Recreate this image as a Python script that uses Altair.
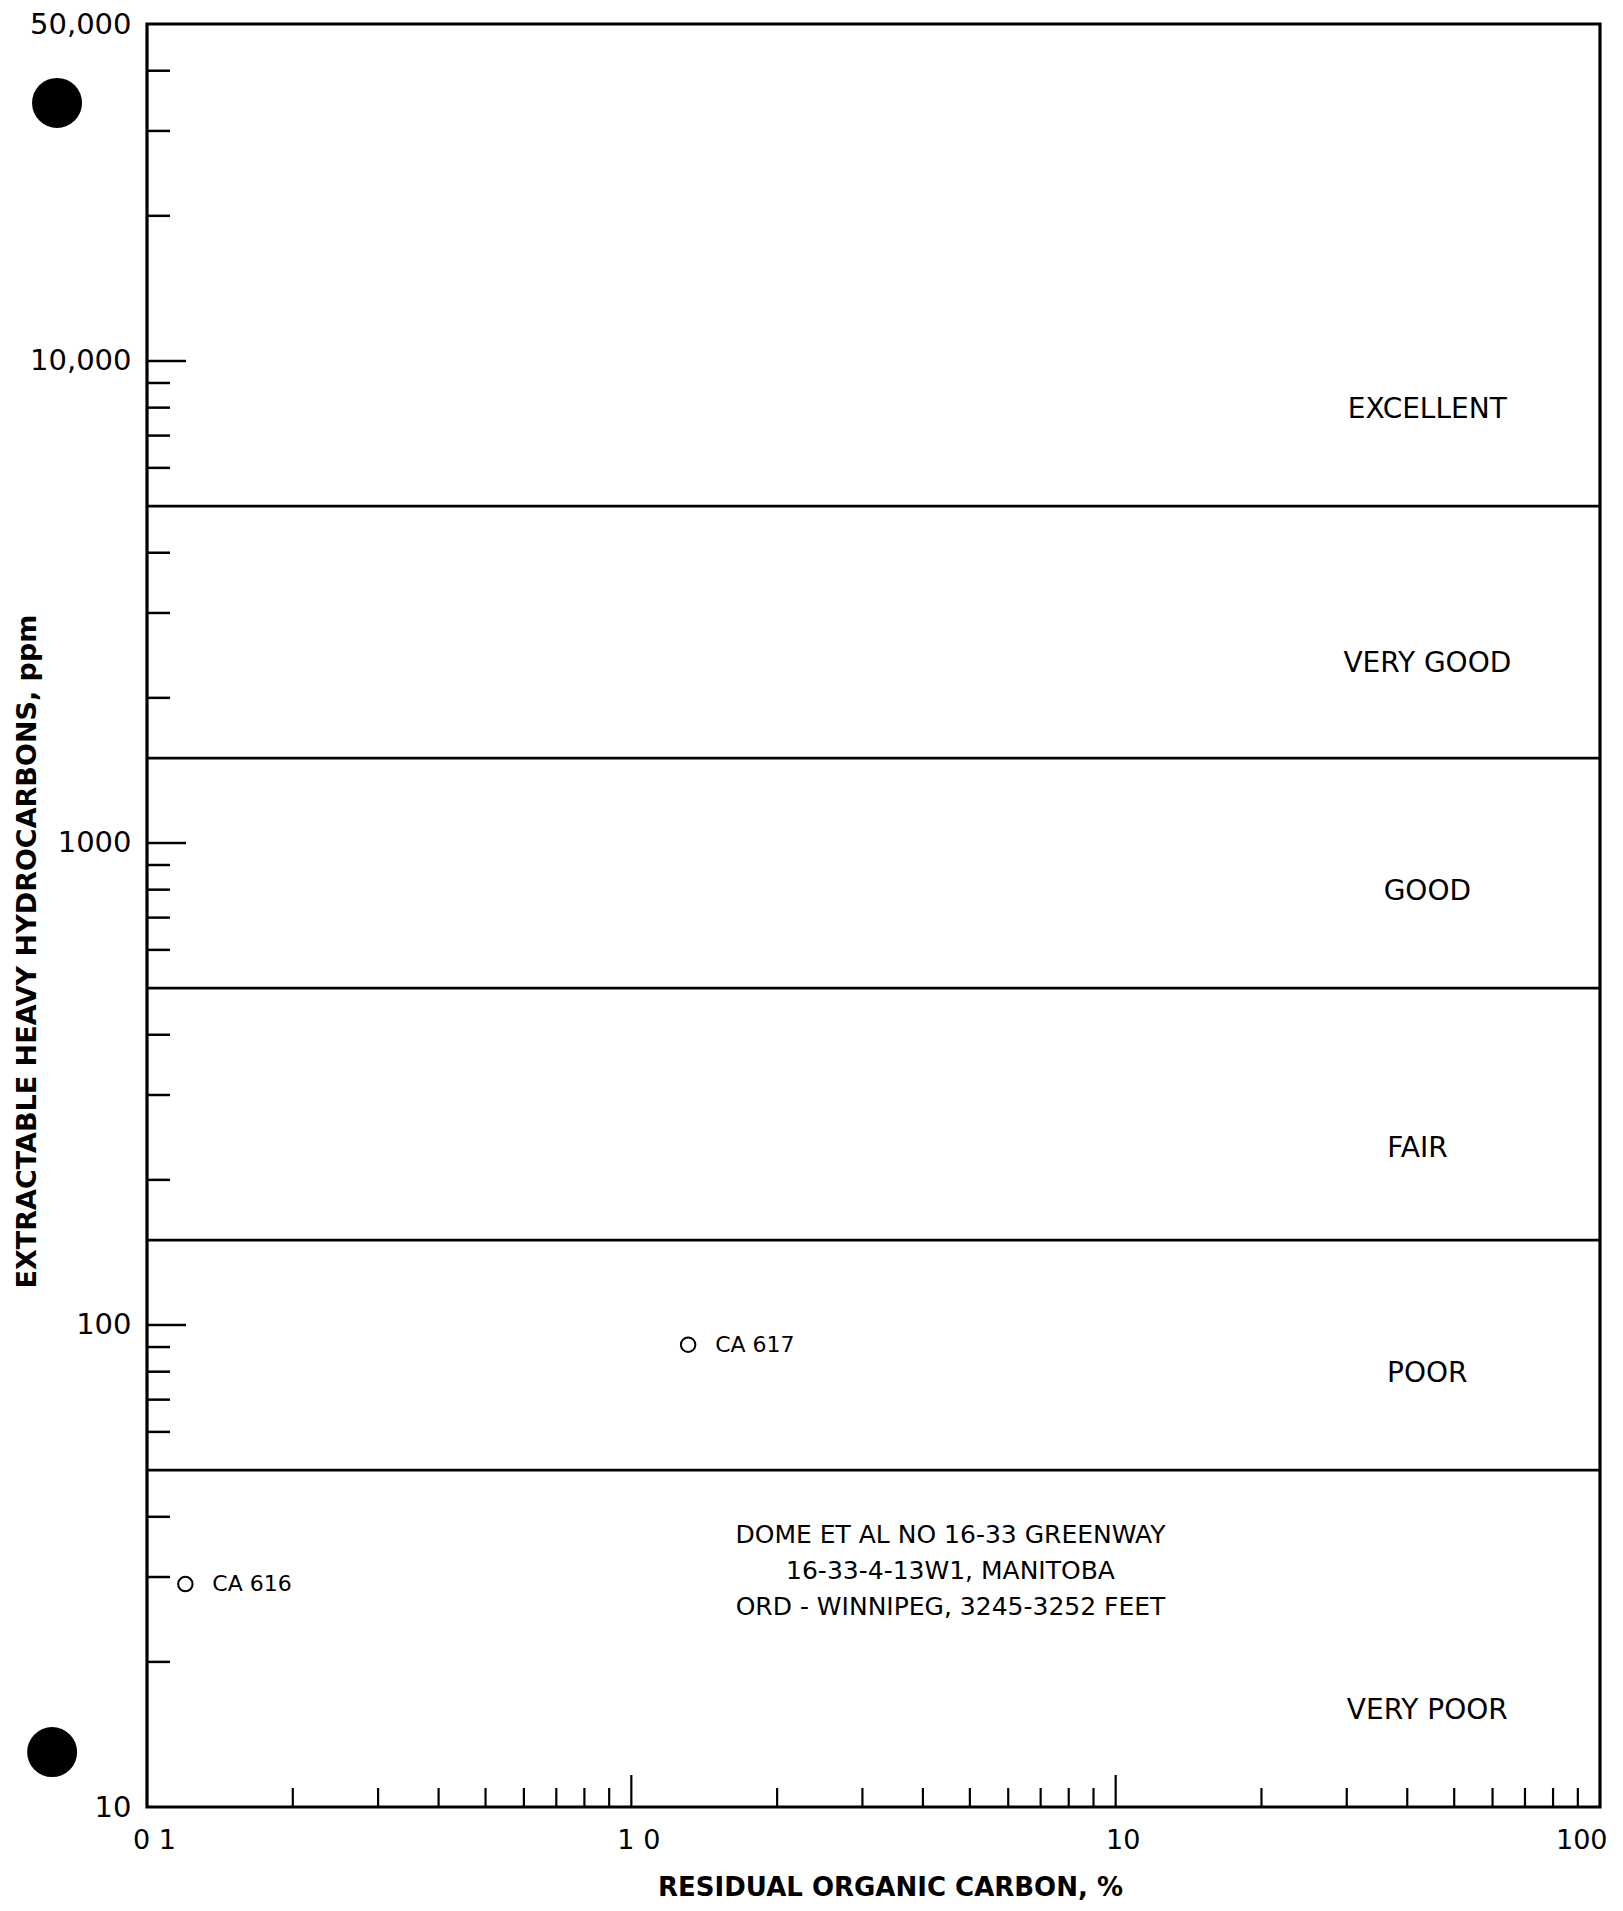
import altair as alt
import pandas as pd

# ---------------- data ----------------
x_label_values = [0.1, 1, 10, 100]
x_label_texts = ["0 1", "1 0", "10", "100"]
x_major_ticks = [1, 10]
x_minor_ticks = [0.2, 0.3, 0.4, 0.5, 0.6, 0.7, 0.8, 0.9,
                 2, 3, 4, 5, 6, 7, 8, 9,
                 20, 30, 40, 50, 60, 70, 80, 90]

y_label_values = [10, 100, 1000, 10000, 50000]
y_label_texts = ["10", "100", "1000", "10,000", "50,000"]
y_major_ticks = [100, 1000, 10000]
y_minor_ticks = [20, 30, 40, 60, 70, 80, 90,
                 200, 300, 400, 600, 700, 800, 900,
                 2000, 3000, 4000, 6000, 7000, 8000, 9000,
                 20000, 30000, 40000]

band_limits = [50, 150, 500, 1500, 5000]
band_names = ["EXCELLENT", "VERY GOOD", "GOOD", "FAIR", "POOR", "VERY POOR"]
band_label_hc = [7900, 2350, 790, 232, 79, 15.8]
band_label_carbon = [44, 44, 44, 42, 44, 44]

sample_names = ["CA 616", "CA 617"]
sample_carbon = [0.12, 1.31]
sample_hc = [29, 91]

well_text = ["DOME ET AL NO 16-33 GREENWAY",
             "16-33-4-13W1, MANITOBA",
             "ORD - WINNIPEG, 3245-3252 FEET"]
well_carbon = [4.56]
well_hc = [36.6]

hole_carbon = [0.0652, 0.0637]
hole_hc = [34300, 13.0]

# ---------------- chart ----------------
W, H = 1453, 1783
FONT = "DejaVu Sans"


def label_expr(values, texts):
    expr = f"'{texts[-1]}'"
    for v, t in reversed(list(zip(values[:-1], texts[:-1]))):
        expr = f"datum.value == {v} ? '{t}' : " + expr
    return expr


xs = alt.Scale(type="log", domain=[0.1, 100], nice=False)
ys = alt.Scale(type="log", domain=[10, 50000], nice=False)

x_axis = alt.Axis(values=x_label_values, labelExpr=label_expr(x_label_values, x_label_texts),
                  ticks=False, domain=False, grid=False, labelFlush=False, labelOverlap=False,
                  labelPadding=20, labelFontSize=27, labelFont=FONT, labelColor="black",
                  labelOffset=7,
                  labelAlign={"expr": f"datum.value == {x_label_values[-1]} ? 'right' : 'center'"},
                  title="RESIDUAL ORGANIC CARBON, %", titleFont=FONT, titleFontSize=26,
                  titleFontWeight="bold", titleColor="black", titleX=743, titleY=80,
                  titleAlign="center", titleBaseline="middle")
y_axis = alt.Axis(values=y_label_values, labelExpr=label_expr(y_label_values, y_label_texts),
                  ticks=False, domain=False, grid=False, labelFlush=False, labelOverlap=False,
                  labelPadding=16, labelFontSize=29, labelFont=FONT, labelColor="black",
                  title="EXTRACTABLE HEAVY HYDROCARBONS, ppm", titleFont=FONT, titleFontSize=27,
                  titleFontWeight="bold", titleColor="black", titleX=-120, titleY=927,
                  titleAngle=270, titleAlign="center", titleBaseline="middle")


def X(field="x"):
    return alt.X(f"{field}:Q", scale=xs, axis=x_axis)


def Y(field="y"):
    return alt.Y(f"{field}:Q", scale=ys, axis=y_axis)


bands = alt.Chart(pd.DataFrame({"y": band_limits})).mark_rule(
    color="black", strokeWidth=2.8).encode(y=Y())

y_major = alt.Chart(pd.DataFrame({"y": y_major_ticks})).mark_rule(
    color="black", strokeWidth=2.5).encode(y=Y(), x=alt.value(0), x2=alt.value(39))
y_minor = alt.Chart(pd.DataFrame({"y": y_minor_ticks})).mark_rule(
    color="black", strokeWidth=2.5).encode(y=Y(), x=alt.value(0), x2=alt.value(23))

x_major = alt.Chart(pd.DataFrame({"x": x_major_ticks})).mark_rule(
    color="black", strokeWidth=2.2).encode(x=X(), y=alt.value(H), y2=alt.value(H - 32))
x_minor = alt.Chart(pd.DataFrame({"x": x_minor_ticks})).mark_rule(
    color="black", strokeWidth=2.2).encode(x=X(), y=alt.value(H), y2=alt.value(H - 19))

band_text = alt.Chart(pd.DataFrame({"x": band_label_carbon, "y": band_label_hc, "t": band_names})).mark_text(
    font=FONT, fontSize=28, color="black", align="center", baseline="middle").encode(
    x=X(), y=Y(), text="t:N")

samples = pd.DataFrame({"x": sample_carbon, "y": sample_hc, "t": sample_names})
sample_pts = alt.Chart(samples).mark_point(
    shape="circle", filled=False, color="black", strokeWidth=2, size=210, opacity=1).encode(x=X(), y=Y())
sample_txt = alt.Chart(samples).mark_text(
    font=FONT, fontSize=22, color="black", align="left", baseline="middle", dx=27).encode(
    x=X(), y=Y(), text="t:N")

well = alt.Chart(pd.DataFrame({"x": well_carbon, "y": well_hc, "t": ["\n".join(well_text)]})).mark_text(
    font=FONT, fontSize=25, color="black", align="center", baseline="middle",
    lineBreak="\n", lineHeight=36).encode(x=X(), y=Y(), text="t:N")

holes = alt.Chart(pd.DataFrame({"x": hole_carbon, "y": hole_hc})).mark_point(
    shape="circle", filled=True, color="black", size=2500, opacity=1).encode(x=X(), y=Y())

chart = alt.layer(
    bands, y_major, y_minor, x_major, x_minor, band_text, sample_pts, sample_txt, well, holes
).properties(
    width=W, height=H, autosize="none",
    padding={"left": 139, "top": 16, "right": 15, "bottom": 95}
).configure(background="white").configure_view(stroke="black", strokeWidth=3.2)

chart.save("out.html", embed_options={"renderer": "svg", "actions": False})
